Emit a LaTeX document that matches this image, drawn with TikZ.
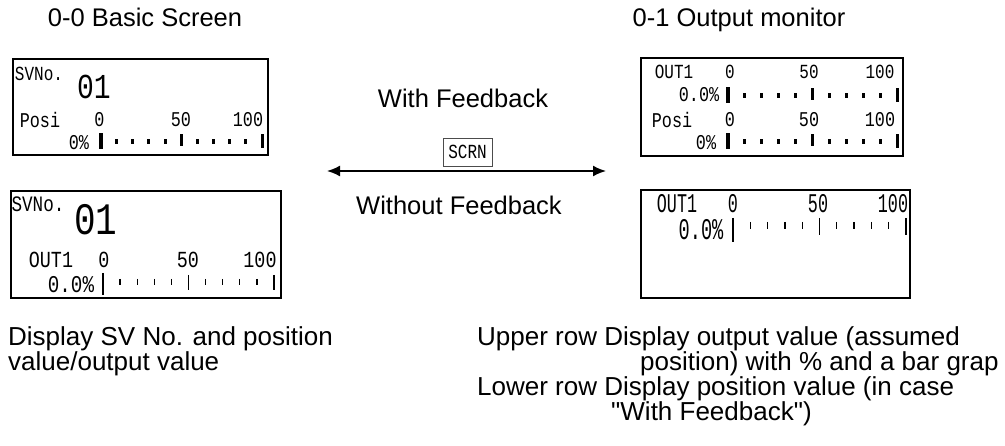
\documentclass[tikz,border=0pt]{standalone}
\usepackage{fontspec}
\setmainfont{Liberation Sans}[Ligatures=TeXOff]
\newfontfamily\lcdfont[FakeStretch=0.8]{Liberation Mono}
\newfontfamily\lcdnarrow[FakeStretch=0.62]{Liberation Mono}
\usetikzlibrary{arrows.meta}

\begin{document}
\begin{tikzpicture}[x=1pt, y=-1pt,
  screen/.style={rectangle, draw, line width=2.6pt, inner sep=0pt},
  lcdtxt/.style={font=\lcdfont\fontsize{#1}{#1}\selectfont, inner sep=0pt},
  lcdn/.style={font=\lcdnarrow\fontsize{#1}{#1}\selectfont, inner sep=0pt},
  title/.style={font=\fontsize{25.5}{25.5}\selectfont, inner sep=0pt, anchor=base},
  caption/.style={font=\fontsize{26}{26}\selectfont, inner sep=0pt, anchor=base west},
  keybox/.style={rectangle, draw=black!70, line width=0.8pt, minimum width=49pt,
                 minimum height=28pt, inner sep=0pt, font=\lcdfont\fontsize{20}{20}\selectfont},
  arr/.style={arrows={Latex[length=13pt,width=11pt]-Latex[length=13pt,width=11pt]}, line width=1.8pt},
  thinbar/.style={line width=1.3pt},
]
\useasboundingbox (0,0) rectangle (1005,446);

% Titles
\node[title] (titlebasic) at (145,27) {0-0 Basic Screen};
\node[title] (titleout)   at (739,27) {0-1 Output monitor};

% Screens
\node[screen, minimum width=255pt, minimum height=96pt]  (basicfb)   at (140.5,107) {};
\node[screen, minimum width=270pt, minimum height=107pt] (basicnofb) at (146,244.5) {};
\node[screen, minimum width=262pt, minimum height=98pt]  (outfb)     at (772,107)   {};
\node[screen, minimum width=269pt, minimum height=108pt] (outnofb)   at (775.5,244) {};

% Basic screen, with feedback
\node[lcdtxt=20] (svlbla)   at (39,73.5) {SVNo.};
\node[lcdtxt=35] (svnuma)   at (94,87)   {01};
\node[lcdtxt=21] (posia)    at (40,120)  {Posi};
\node[lcdtxt=21] (zeroa)    at (99.5,120) {0};
\node[lcdtxt=21] (fiftya)   at (181,120) {50};
\node[lcdtxt=21] (hundreda) at (248,120) {100};
\node[lcdtxt=21] (pcta)     at (79,143)  {0\%};

% Basic screen, without feedback
\node[lcdtxt=22] (svlblb)   at (38,204.5) {SVNo.};
\node[lcdtxt=45] (svnumb)   at (96,220)   {01};
\node[lcdtxt=23] (outb)     at (51,259.5) {OUT1};
\node[lcdtxt=23] (zerob)    at (104,259.5) {0};
\node[lcdtxt=23] (fiftyb)   at (188,259.5) {50};
\node[lcdtxt=23] (hundredb) at (260,259.5) {100};
\node[lcdtxt=24] (pctb)     at (71,285)   {0.0\%};

% Output monitor, with feedback
\node[lcdtxt=20] (outc)      at (674,71.5) {OUT1};
\node[lcdtxt=20] (zeroc)     at (730,71.5) {0};
\node[lcdtxt=20] (fiftyc)    at (809,71.5) {50};
\node[lcdtxt=20] (hundredc)  at (880,71.5) {100};
\node[lcdtxt=21] (pctc)      at (699,95)   {0.0\%};
\node[lcdtxt=21] (posic)     at (672,120)  {Posi};
\node[lcdtxt=21] (zerocc)    at (730,120)  {0};
\node[lcdtxt=21] (fiftycc)   at (809,120)  {50};
\node[lcdtxt=21] (hundredcc) at (880,120)  {100};
\node[lcdtxt=21] (pctcc)     at (706,143)  {0\%};

% Output monitor, without feedback
\node[lcdn=27] (outd)     at (677,204) {OUT1};
\node[lcdn=27] (zerod)    at (733,204) {0};
\node[lcdn=27] (fiftyd)   at (818,204) {50};
\node[lcdn=27] (hundredd) at (893,204) {100};
\node[lcdn=30] (pctd)     at (701,230) {0.0\%};

% Dotted bar graphs
\foreach \bx/\by/\bs in {100.5/133/16.15, 728/87/16.9, 728/133/16.9} {
  \fill ({\bx-2},\by) rectangle ++(4,16);
  \foreach \k in {1,2,3,4,6,7,8,9}
    \fill ({\bx+\bs*\k-1.5},{\by+6}) rectangle ++(3,5);
  \fill ({\bx+\bs*5-1.5},{\by+1.5}) rectangle ++(3,12);
  \fill ({\bx+\bs*10-1.5},{\by+1}) rectangle ++(3,14);
}

% Thin bar graphs
\draw[thinbar] (103,273) -- ++(0,22);
\foreach \k in {1,2,3,4,6,7,8,9}
  \draw[thinbar] ({103+17.1*\k},279) -- ++(0,6);
\draw[thinbar] ({103+17.1*5},275) -- ++(0,15);
\draw[thinbar] ({103+17.1*10},275) -- ++(0,15);

\draw[thinbar] (733,218) -- ++(0,24);
\foreach \k in {1,2,3,4,6,7,8,9}
  \draw[thinbar] ({733+17.3*\k},222) -- ++(0,7);
\draw[thinbar] ({733+17.3*5},218) -- ++(0,17);
\draw[thinbar] ({733+17.3*10},218) -- ++(0,17);

% Switching key
\node[title] (withfb)    at (463,108) {With Feedback};
\node[keybox] (scrn)     at (467.5,152) {SCRN};
\coordinate (arrleft)  at (327,171);
\coordinate (arrright) at (606,171);
\draw[arr] (arrleft) -- (arrright);
\node[title] (withoutfb) at (459,215) {Without Feedback};

% Captions
\node[caption] (capbasica) at (8,346)   {Display SV No. and position};
\node[caption] (capbasicb) at (8,371)   {value/output value};
\node[caption] (capouta)   at (477,346) {Upper row Display output value (assumed};
\node[caption] (capoutb)   at (640,371) {position) with \% and a bar grap};
\node[caption] (capoutc)   at (477,396) {Lower row Display position value (in case};
\node[caption] (capoutd)   at (611,421) {"With Feedback")};

\end{tikzpicture}
\end{document}
